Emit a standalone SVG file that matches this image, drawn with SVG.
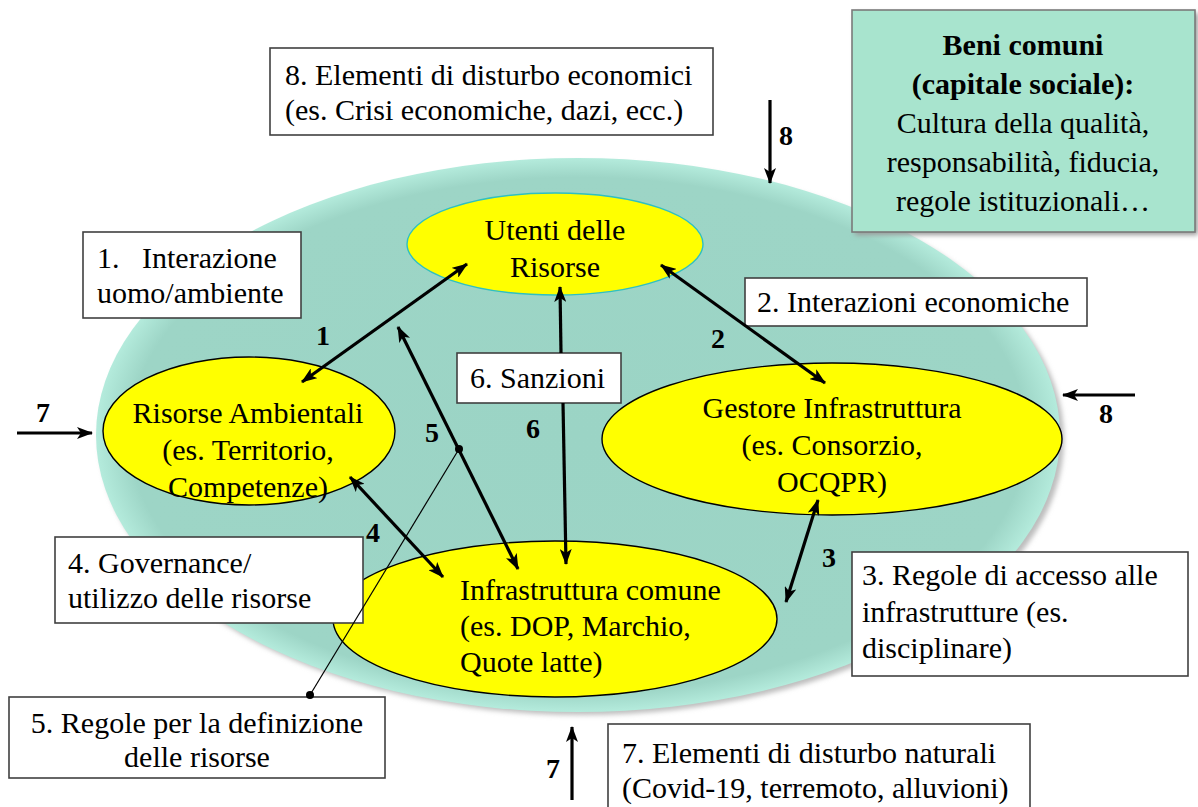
<svg xmlns="http://www.w3.org/2000/svg" width="1198" height="807" viewBox="0 0 1198 807">
<defs>
<style>
text{font-family:"Times New Roman","Liberation Serif",Times,serif}
.t{font-size:30px;font-weight:normal;fill:#000}
.n{font-size:28px;font-weight:bold;fill:#000}
.b{font-size:30px;font-weight:bold;fill:#000}
.box{fill:#fff;stroke:#404040;stroke-width:1.6}
.yel{fill:#ffff00;stroke:#000;stroke-width:1.4}
.ar{stroke:#000;stroke-width:3.2;fill:none}
.thin{stroke:#000;stroke-width:1.2;fill:none}
</style>
<marker id="ah" viewBox="0 0 16 12" refX="15" refY="6" markerWidth="16" markerHeight="12" markerUnits="userSpaceOnUse" orient="auto-start-reverse">
<path d="M0,0 L16,6 L0,12 L4,6 Z" fill="#000"/>
</marker>
<radialGradient id="teal" cx="0.5" cy="0.5" r="0.5">
<stop offset="0" stop-color="#9bd4c5"/>
<stop offset="0.93" stop-color="#9dd5c6"/>
<stop offset="1" stop-color="#b4ebdc"/>
</radialGradient>
<filter id="sh" x="-10%" y="-10%" width="120%" height="120%">
<feGaussianBlur stdDeviation="2.5"/>
</filter>
</defs>

<g id="background">
<ellipse cx="582" cy="439" rx="482" ry="276" fill="#bdbdbd" filter="url(#sh)"/>
<ellipse cx="578" cy="435" rx="482" ry="277" fill="url(#teal)"/>
</g>

<g id="beni-comuni">
<rect x="855" y="13" width="343" height="222" fill="#9a9a9a" filter="url(#sh)"/>
<rect x="852" y="10" width="343" height="222" fill="#a8e4ce" stroke="#7a7a7a" stroke-width="1.6"/>
<text class="b" x="1023" y="55" text-anchor="middle">Beni comuni</text>
<text class="b" x="1023" y="94" text-anchor="middle">(capitale sociale):</text>
<text class="t" x="1023" y="133" text-anchor="middle">Cultura della qualità,</text>
<text class="t" x="1023" y="172" text-anchor="middle">responsabilità, fiducia,</text>
<text class="t" x="1023" y="211" text-anchor="middle">regole istituzionali…</text>
</g>

<g id="utenti">
<ellipse cx="555" cy="244" rx="148" ry="51" fill="#ffff00" stroke="#2fc0c0" stroke-width="1.4"/>
<text class="t" x="555" y="240" text-anchor="middle">Utenti delle</text>
<text class="t" x="555" y="277" text-anchor="middle">Risorse</text>
</g>

<g id="risorse-ambientali">
<ellipse class="yel" cx="249" cy="431" rx="146" ry="74"/>
<text class="t" x="248" y="423" text-anchor="middle">Risorse Ambientali</text>
<text class="t" x="248" y="460" text-anchor="middle">(es. Territorio,</text>
<text class="t" x="248" y="497" text-anchor="middle">Competenze)</text>
</g>

<g id="gestore">
<ellipse class="yel" cx="832" cy="439" rx="230" ry="76"/>
<text class="t" x="832" y="418" text-anchor="middle">Gestore Infrastruttura</text>
<text class="t" x="832" y="455" text-anchor="middle">(es. Consorzio,</text>
<text class="t" x="832" y="492" text-anchor="middle">OCQPR)</text>
</g>

<g id="infrastruttura">
<ellipse class="yel" cx="555" cy="619" rx="222" ry="78"/>
<text class="t" x="460" y="600">Infrastruttura comune</text>
<text class="t" x="460" y="636">(es. DOP, Marchio,</text>
<text class="t" x="460" y="672">Quote latte)</text>
</g>

<g id="box8">
<rect class="box" x="270" y="48" width="443" height="87"/>
<text class="t" x="285" y="85">8. Elementi di disturbo economici</text>
<text class="t" x="285" y="120">(es. Crisi economiche, dazi, ecc.)</text>
</g>

<g id="box1">
<rect class="box" x="83" y="232" width="218" height="86"/>
<text class="t" x="97" y="268">1.</text>
<text class="t" x="142" y="268">Interazione</text>
<text class="t" x="97" y="303">uomo/ambiente</text>
</g>

<g id="box2">
<rect class="box" x="745" y="278" width="342" height="48"/>
<text class="t" x="757" y="312">2. Interazioni economiche</text>
</g>

<g id="box6">
<rect class="box" x="457" y="353" width="164" height="50"/>
<text class="t" x="470" y="388">6. Sanzioni</text>
</g>

<g id="box4">
<rect class="box" x="55" y="537" width="308" height="86"/>
<text class="t" x="68" y="573">4. Governance/</text>
<text class="t" x="68" y="608">utilizzo delle risorse</text>
</g>

<g id="box3">
<rect class="box" x="852" y="552" width="336" height="124"/>
<text class="t" x="862" y="585">3. Regole di accesso alle</text>
<text class="t" x="862" y="622">infrastrutture (es.</text>
<text class="t" x="862" y="658">disciplinare)</text>
</g>

<g id="box5">
<rect class="box" x="9" y="697" width="376" height="81"/>
<text class="t" x="197" y="733" text-anchor="middle">5. Regole per la definizione</text>
<text class="t" x="197" y="767" text-anchor="middle">delle risorse</text>
</g>

<g id="box7">
<rect class="box" x="608" y="724" width="422" height="90"/>
<text class="t" x="622" y="763">7. Elementi di disturbo naturali</text>
<text class="t" x="622" y="798">(Covid-19, terremoto, alluvioni)</text>
</g>

<g id="connectors">
<line class="ar" x1="302" y1="382" x2="467" y2="264" marker-start="url(#ah)" marker-end="url(#ah)"/>
<line class="ar" x1="661" y1="265" x2="825" y2="383" marker-start="url(#ah)" marker-end="url(#ah)"/>
<line class="ar" x1="818" y1="500" x2="786" y2="602" marker-start="url(#ah)" marker-end="url(#ah)"/>
<line class="ar" x1="350" y1="477" x2="443" y2="577" marker-start="url(#ah)" marker-end="url(#ah)"/>
<line class="ar" x1="398" y1="327" x2="518" y2="569" marker-start="url(#ah)" marker-end="url(#ah)"/>
<line class="ar" x1="561" y1="353" x2="560" y2="287" marker-end="url(#ah)"/>
<line class="ar" x1="563" y1="403" x2="566" y2="564" marker-end="url(#ah)"/>
<line class="thin" x1="459" y1="449" x2="310" y2="695"/>
<circle cx="459" cy="449" r="4" fill="#000"/>
<circle cx="310" cy="695" r="4" fill="#000"/>
<line class="ar" x1="17" y1="433" x2="92" y2="433" marker-end="url(#ah)"/>
<line class="ar" x1="572" y1="800" x2="572" y2="727" marker-end="url(#ah)"/>
<line class="ar" x1="770" y1="100" x2="770" y2="183" marker-end="url(#ah)"/>
<line class="ar" x1="1135" y1="395" x2="1063" y2="395" marker-end="url(#ah)"/>
<text class="n" x="323" y="345" text-anchor="middle">1</text>
<text class="n" x="718" y="348" text-anchor="middle">2</text>
<text class="n" x="829" y="567" text-anchor="middle">3</text>
<text class="n" x="373" y="542" text-anchor="middle">4</text>
<text class="n" x="432" y="442" text-anchor="middle">5</text>
<text class="n" x="533" y="438" text-anchor="middle">6</text>
<text class="n" x="43" y="422" text-anchor="middle">7</text>
<text class="n" x="553" y="778" text-anchor="middle">7</text>
<text class="n" x="786" y="145" text-anchor="middle">8</text>
<text class="n" x="1106" y="423" text-anchor="middle">8</text>
</g>
</svg>
